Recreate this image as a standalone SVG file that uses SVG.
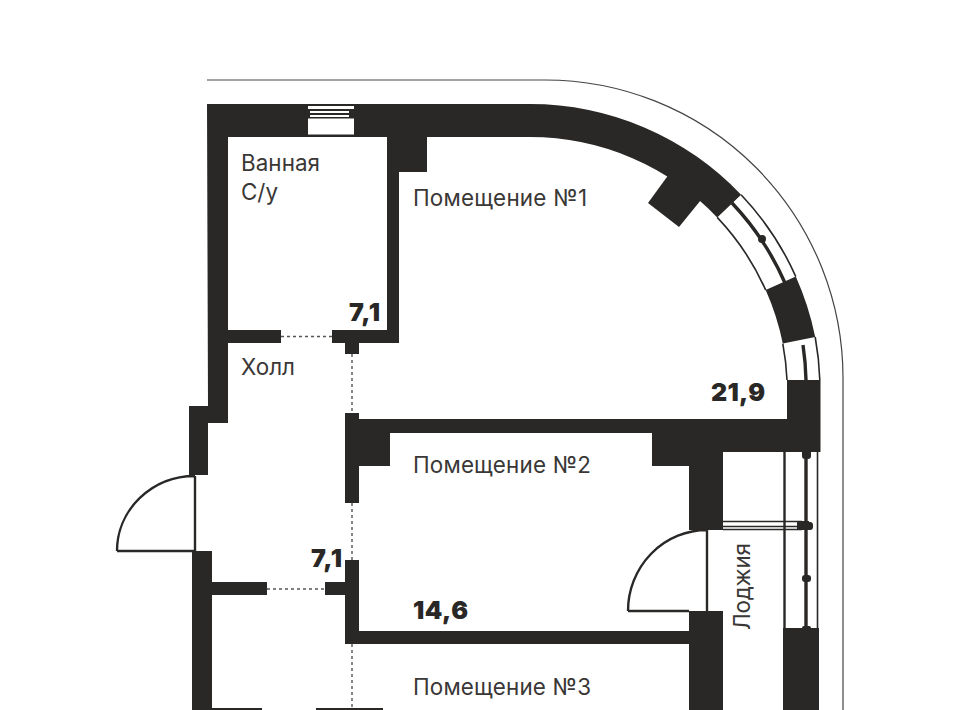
<svg xmlns="http://www.w3.org/2000/svg" width="960" height="710" viewBox="0 0 960 710">
<style>
.w{fill:#2a2826}
.t{font-family:"Inter","Noto Sans","Liberation Sans",sans-serif;font-size:22.400px;fill:#3a3836}
.b{font-family:"Inter","Liberation Sans",sans-serif;font-size:25px;font-weight:900;fill:#2a2826}
.d{fill:none;stroke:#2a2826;stroke-width:2.4}
.l{fill:none;stroke:#2a2826;stroke-width:1.6}
.m{fill:none;stroke:#2a2826;stroke-width:3.4}
.dot{fill:none;stroke:#555;stroke-width:1.4;stroke-dasharray:3 3}
</style>
<rect width="960" height="710" fill="#fff"/>
<path id="outline" d="M207 80H545A298 298 0 0 1 843 378V710" fill="none" stroke="#444" stroke-width="1.2"/>
<g id="walls">
<path class="w" d="M207 104H530A291 291 0 0 1 741.1 194.7L717.2 217.4A258 258 0 0 0 530 137H427V172H399V343H359V354H345V343H332V330H387V137H228V330H281V343H228V423H208V475H189V406H208Z"/>
<path class="w" d="M672 170L648 203L679 227L705 195Z"/>
<path class="w" d="M795.8 276.6A291 291 0 0 1 815.2 337L782.8 343.6A258 258 0 0 0 765.7 290.1Z"/>
<path class="w" d="M345 413H359V419H787V380H820.5V452H723V530H689V466H652V433H390V466H359V503H345Z"/>
<path class="w" d="M345 560H359V631H689V611H723V710H689V644H345V595H325V582H345Z"/>
<path class="w" d="M192 551H212V582H267V595H212V708H262V710H192Z"/>
<path class="w" d="M316 708H383V710H316Z"/>
<path class="w" d="M783 628H819V710H783Z"/>
</g>
<g id="window-top">
<rect x="308" y="106" width="46" height="28.500" fill="#fff"/>
<rect x="308" y="109" width="46" height="9.500" class="w"/>
<rect x="310" y="111" width="39" height="2" fill="#fff"/>
<rect x="310" y="115" width="39" height="2" fill="#fff"/>
</g>
<g id="window-arc-1">
<path class="l" d="M741.1 194.7A291 291 0 0 1 795.8 276.6"/>
<path class="l" d="M717.2 217.4A258 258 0 0 1 765.7 290.100"/>
<path class="m" d="M732 203A279 279 0 0 1 785 283"/>
<circle class="w" cx="762" cy="239" r="4"/>
</g>
<g id="window-arc-2">
<path class="l" d="M815.2 337A291 291 0 0 1 819.800 380"/>
<path class="l" d="M782.800 343.600A258 258 0 0 1 787 380"/>
<path class="m" d="M803 345A278 278 0 0 1 806 380"/>
</g>
<g id="window-loggia">
<path class="d" d="M784.500 452V628"/>
<path class="m" d="M806 452V628"/>
<path class="l" d="M817.500 452V628"/>
<path class="l" d="M723 521.500H802M723 526.500H802M723 529.500H802"/>
<rect x="797" y="521" width="12" height="9" class="w"/>
<rect x="802" y="449" width="9" height="10" class="w" rx="3"/>
<rect x="802" y="522" width="11" height="8" class="w" rx="3"/>
<rect x="802" y="575" width="9" height="7" class="w" rx="3"/>
<rect x="802" y="626" width="9" height="5" class="w" rx="2"/>
</g>
<g id="door-entrance">
<path class="d" d="M195 476V551M117 551H195M195 476A78 75 0 0 0 117 551"/>
</g>
<g id="door-loggia">
<path class="d" d="M707 530V611M628 611H689M707 530A79 81 0 0 0 628 611"/>
</g>
<g id="connectors">
<path class="dot" d="M281 336.500H332M352 354V413M352 503V560M267 589H325M352 644V708"/>
</g>
<g id="labels">
<text class="t" x="241" y="171" textLength="79">Ванная</text>
<text class="t" x="241" y="199.500">С/у</text>
<text class="t" x="241" y="375" textLength="54">Холл</text>
<text class="t" x="413" y="206" textLength="174">Помещение №1</text>
<text class="t" x="413" y="473" textLength="178">Помещение №2</text>
<text class="t" x="413" y="695" textLength="178">Помещение №3</text>
<text class="t" transform="translate(750 630) rotate(-90)" textLength="87">Лоджия</text>
<text class="b" x="349" y="321" textLength="31">7,1</text>
<text class="b" x="711" y="401" textLength="54">21,9</text>
<text class="b" x="311" y="567" textLength="31">7,1</text>
<text class="b" x="413" y="619" textLength="55">14,6</text>
</g>
</svg>
